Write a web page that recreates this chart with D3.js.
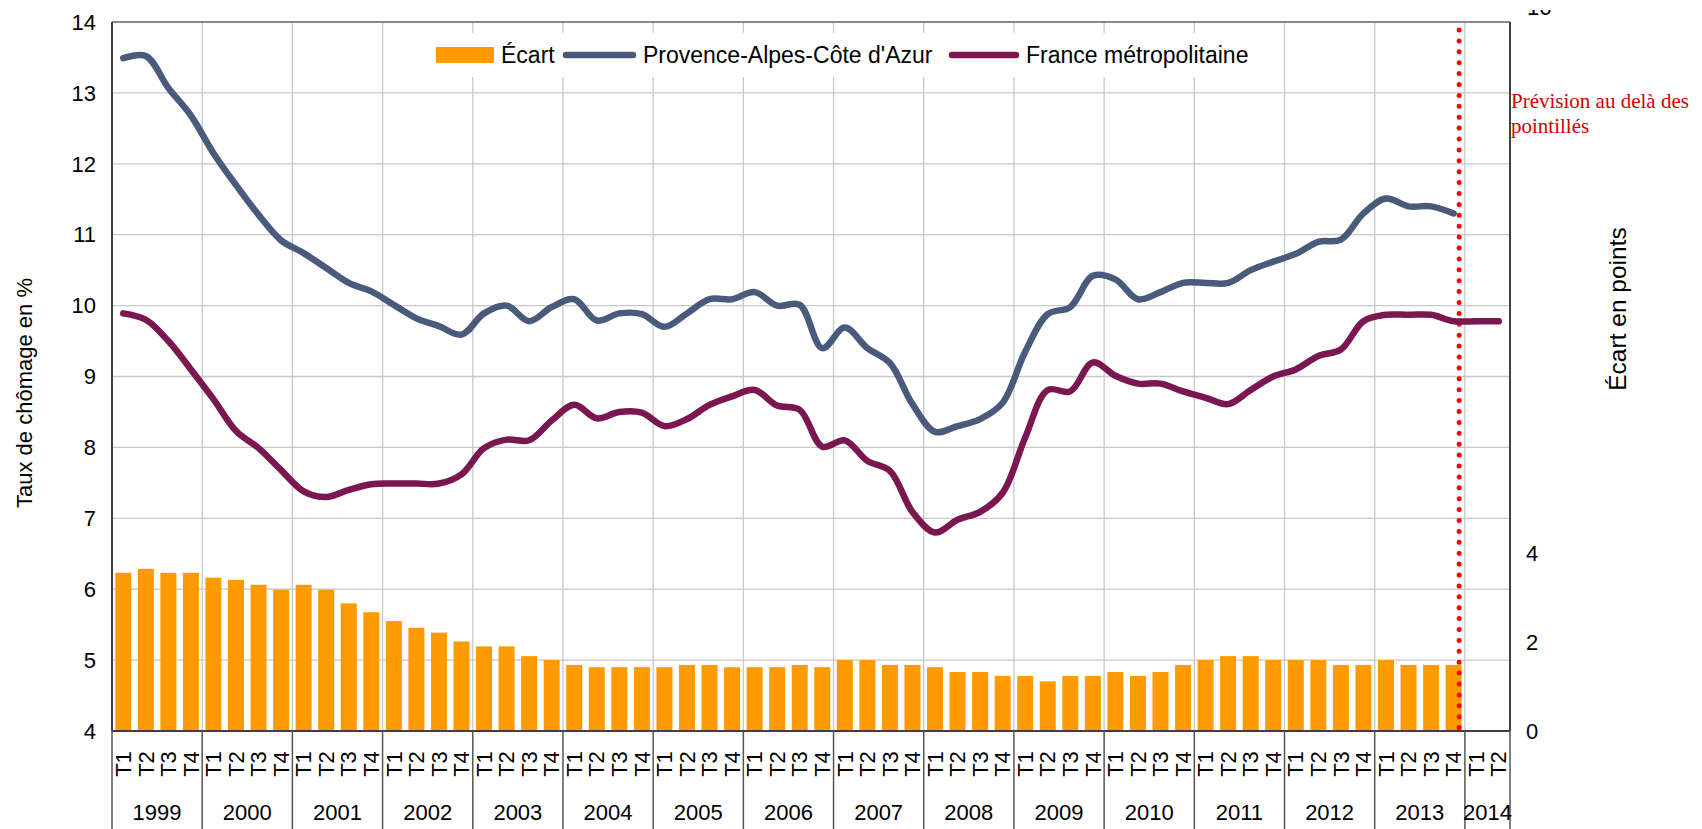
<!DOCTYPE html>
<html>
<head>
<meta charset="utf-8">
<script src="https://cdn.jsdelivr.net/npm/d3@7"></script>
<style>
  html, body { margin: 0; padding: 0; background: #fff; }
  svg { display: block; font-family: "Liberation Sans", Arial, sans-serif; }
</style>
</head>
<body>
<div id="chart"></div>
<script>
// years and quarters of the category axis
const years = [1999, 2000, 2001, 2002, 2003, 2004, 2005, 2006, 2007, 2008, 2009, 2010, 2011, 2012, 2013, 2014];
const quarters = ['T1', 'T2', 'T3', 'T4'];
const quartersLastYear = ['T1', 'T2'];

// unemployment rate, Provence-Alpes-Côte d'Azur (%), 1999 T1 -> 2013 T4
const paca = [
  13.49, 13.52, 13.07, 12.68,
  12.15, 11.70, 11.28, 10.92,
  10.74, 10.53, 10.32, 10.20,
  10.01, 9.82, 9.71, 9.59,
  9.89, 10.00, 9.78, 9.98,
  10.09, 9.79, 9.89, 9.88,
  9.70, 9.89, 10.09, 10.09,
  10.19, 10.00, 10.01, 9.40,
  9.69, 9.40, 9.19, 8.61,
  8.22, 8.30, 8.40, 8.63,
  9.35, 9.88, 9.98, 10.42,
  10.37, 10.09, 10.19, 10.32,
  10.32, 10.32, 10.50, 10.62,
  10.73, 10.90, 10.93, 11.30,
  11.51, 11.40, 11.40, 11.30
];

// unemployment rate, France métropolitaine (%), 1999 T1 -> 2014 T2
const france = [
  9.89, 9.80, 9.50, 9.10,
  8.68, 8.23, 7.99, 7.68,
  7.38, 7.30, 7.40, 7.48,
  7.49, 7.49, 7.49, 7.62,
  7.99, 8.11, 8.10, 8.38,
  8.60, 8.41, 8.50, 8.49,
  8.30, 8.40, 8.60, 8.72,
  8.81, 8.59, 8.53, 8.01,
  8.10, 7.81, 7.67, 7.09,
  6.80, 6.98, 7.09, 7.36,
  8.14, 8.81, 8.79, 9.20,
  9.01, 8.90, 8.90, 8.79,
  8.70, 8.61, 8.81, 9.00,
  9.10, 9.29, 9.38, 9.78,
  9.87, 9.87, 9.87, 9.78,
  9.78, 9.78
];

// gap in points (right axis), 1999 T1 -> 2013 T4
const ecart = [
  3.57, 3.66, 3.57, 3.57,
  3.46, 3.41, 3.30, 3.19,
  3.30, 3.19, 2.88, 2.68,
  2.48, 2.33, 2.22, 2.02,
  1.91, 1.91, 1.69, 1.60,
  1.49, 1.44, 1.44, 1.44,
  1.44, 1.49, 1.49, 1.44,
  1.44, 1.44, 1.49, 1.44,
  1.60, 1.60, 1.49, 1.49,
  1.44, 1.33, 1.33, 1.24,
  1.24, 1.12, 1.24, 1.24,
  1.33, 1.24, 1.33, 1.49,
  1.60, 1.69, 1.69, 1.60,
  1.60, 1.60, 1.49, 1.49,
  1.60, 1.49, 1.49, 1.49
];

const leftTicks = [4, 5, 6, 7, 8, 9, 10, 11, 12, 13, 14];
const rightTicks = [0, 2, 4];
const rightTop = 16;

const seriesNames = ['Écart', "Provence-Alpes-Côte d'Azur", 'France métropolitaine'];
const leftTitle = 'Taux de chômage en %';
const rightTitle = 'Écart en points';
const noteLines = ['Prévision au delà des', 'pointillés'];
const forecastFrom = '2013 T4';

const colors = { ecart: '#ff9a00', paca: '#4a5a7c', france: '#7a1750' };

// build the category list
const categories = [];
years.forEach(y => {
  const qs = y === 2014 ? quartersLastYear : quarters;
  qs.forEach(q => categories.push({ key: y + ' ' + q, year: y, q: q }));
});

const W = 1702, H = 829;
const m = { left: 112, right: 1510, top: 22, bottom: 731 };

const svg = d3.select('#chart').append('svg')
  .attr('width', W).attr('height', H);

svg.append('rect').attr('width', W).attr('height', H).attr('fill', '#fff');

const x = d3.scaleBand()
  .domain(categories.map(d => d.key))
  .range([m.left, m.right])
  .paddingInner(0.29)
  .paddingOuter(0.145);
const step = x.step();
const xc = k => x(k) + x.bandwidth() / 2;

const yL = d3.scaleLinear().domain([4, 14]).range([m.bottom, m.top]);
const yR = d3.scaleLinear().domain([0, 16]).range([m.bottom, m.top]);

// gridlines
const grid = svg.append('g').attr('stroke', '#c8c8c8').attr('stroke-width', 1.3);
grid.selectAll('line.h')
  .data(leftTicks.filter(t => t > 4 && t < 14))
  .join('line')
  .attr('x1', m.left).attr('x2', m.right)
  .attr('y1', d => yL(d)).attr('y2', d => yL(d));

const yearStarts = years.map(y => categories.find(c => c.year === y).key);
grid.selectAll('line.v')
  .data(yearStarts.slice(1))
  .join('line')
  .attr('x1', d => x(d) - step * 0.145).attr('x2', d => x(d) - step * 0.145)
  .attr('y1', m.top).attr('y2', m.bottom);

// legend background hides the grid behind it
svg.append('rect')
  .attr('x', 425).attr('y', 33).attr('width', 832).attr('height', 44)
  .attr('fill', '#fff');

// bars
svg.append('g')
  .selectAll('rect')
  .data(ecart)
  .join('rect')
  .attr('x', (d, i) => x(categories[i].key))
  .attr('width', x.bandwidth())
  .attr('y', d => yR(d))
  .attr('height', d => yR(0) - yR(d))
  .attr('fill', colors.ecart);

// forecast marker
const fx = x(forecastFrom) - step * 0.145 + step * 0.745;
svg.append('line')
  .attr('x1', fx).attr('x2', fx)
  .attr('y1', m.top + 8).attr('y2', m.bottom)
  .attr('stroke', '#ff0000')
  .attr('stroke-width', 5)
  .attr('stroke-linecap', 'round')
  .attr('stroke-dasharray', '0 10.9');

// lines
const line = d3.line()
  .x(d => xc(d.key))
  .y(d => yL(d.v))
  .curve(d3.curveCatmullRom.alpha(0.5));

const drawLine = (vals, color) => {
  svg.append('path')
    .datum(vals.map((v, i) => ({ key: categories[i].key, v: v })))
    .attr('d', line)
    .attr('fill', 'none')
    .attr('stroke', color)
    .attr('stroke-width', 6.5)
    .attr('stroke-linejoin', 'round')
    .attr('stroke-linecap', 'round');
};
drawLine(paca, colors.paca);
drawLine(france, colors.france);

// frame
svg.append('line').attr('x1', m.left).attr('x2', m.right).attr('y1', m.top).attr('y2', m.top)
  .attr('stroke', '#8a8a8a').attr('stroke-width', 2);
const frame = svg.append('g').attr('stroke', '#404040').attr('stroke-width', 2);
frame.append('line').attr('x1', m.left).attr('x2', m.left).attr('y1', m.top).attr('y2', m.bottom);
frame.append('line').attr('x1', m.right).attr('x2', m.right).attr('y1', m.top).attr('y2', m.bottom);
frame.append('line').attr('x1', m.left).attr('x2', m.right).attr('y1', m.bottom).attr('y2', m.bottom);

// category axis: year separators
const sepX = yearStarts.map(k => x(k) - step * 0.145).concat([m.right]);
svg.append('g').attr('stroke', '#555').attr('stroke-width', 1.5)
  .selectAll('line')
  .data(sepX)
  .join('line')
  .attr('x1', d => d).attr('x2', d => d)
  .attr('y1', m.bottom).attr('y2', H);

// quarter labels
svg.append('g')
  .selectAll('text')
  .data(categories)
  .join('text')
  .attr('transform', d => `translate(${xc(d.key)},764) rotate(-90)`)
  .attr('text-anchor', 'middle')
  .attr('dy', '0.35em')
  .attr('font-size', 22)
  .attr('fill', '#000')
  .text(d => d.q);

// year labels
svg.append('g')
  .selectAll('text')
  .data(years)
  .join('text')
  .attr('x', (d, i) => (sepX[i] + sepX[i + 1]) / 2)
  .attr('y', 820)
  .attr('text-anchor', 'middle')
  .attr('font-size', 22)
  .attr('fill', '#000')
  .text(d => d);

// left axis labels
svg.append('g')
  .selectAll('text')
  .data(leftTicks)
  .join('text')
  .attr('x', 96)
  .attr('y', d => yL(d))
  .attr('dy', '0.35em')
  .attr('text-anchor', 'end')
  .attr('font-size', 22)
  .text(d => d);

// right axis labels
svg.append('g')
  .selectAll('text')
  .data(rightTicks)
  .join('text')
  .attr('x', 1526)
  .attr('y', d => yR(d))
  .attr('dy', '0.35em')
  .attr('font-size', 22)
  .text(d => d);

// top label of the right axis, mostly cut off by the frame of the picture
svg.append('clipPath').attr('id', 'topclip')
  .append('rect').attr('x', 1500).attr('y', 10).attr('width', 100).attr('height', 20);
svg.append('text')
  .attr('x', 1527).attr('y', 15)
  .attr('font-size', 22)
  .attr('clip-path', 'url(#topclip)')
  .text(rightTop);

// axis titles
svg.append('text')
  .attr('transform', 'translate(24,393) rotate(-90)')
  .attr('text-anchor', 'middle')
  .attr('dy', '0.35em')
  .attr('font-size', 22)
  .text(leftTitle);

svg.append('text')
  .attr('transform', 'translate(1617,309) rotate(-90)')
  .attr('text-anchor', 'middle')
  .attr('dy', '0.35em')
  .attr('font-size', 24.5)
  .text(rightTitle);

// forecast note
svg.append('text')
  .attr('x', 1511).attr('y', 108)
  .attr('font-family', '"Liberation Serif", "Times New Roman", serif')
  .attr('font-size', 21)
  .attr('fill', '#d40000')
  .selectAll('tspan')
  .data(noteLines)
  .join('tspan')
  .attr('x', 1511)
  .attr('dy', (d, i) => i === 0 ? 0 : 25)
  .text(d => d);

// legend
const lg = svg.append('g').attr('font-size', 23);
lg.append('rect').attr('x', 436).attr('y', 47).attr('width', 58).attr('height', 16)
  .attr('fill', colors.ecart);
lg.append('text').attr('x', 501).attr('y', 55).attr('dy', '0.35em').text(seriesNames[0]);
lg.append('line').attr('x1', 566).attr('x2', 633).attr('y1', 55).attr('y2', 55)
  .attr('stroke', colors.paca).attr('stroke-width', 6.5).attr('stroke-linecap', 'round');
lg.append('text').attr('x', 643).attr('y', 55).attr('dy', '0.35em').text(seriesNames[1]);
lg.append('line').attr('x1', 952).attr('x2', 1016).attr('y1', 55).attr('y2', 55)
  .attr('stroke', colors.france).attr('stroke-width', 6.5).attr('stroke-linecap', 'round');
lg.append('text').attr('x', 1026).attr('y', 55).attr('dy', '0.35em').text(seriesNames[2]);
</script>
</body>
</html>
